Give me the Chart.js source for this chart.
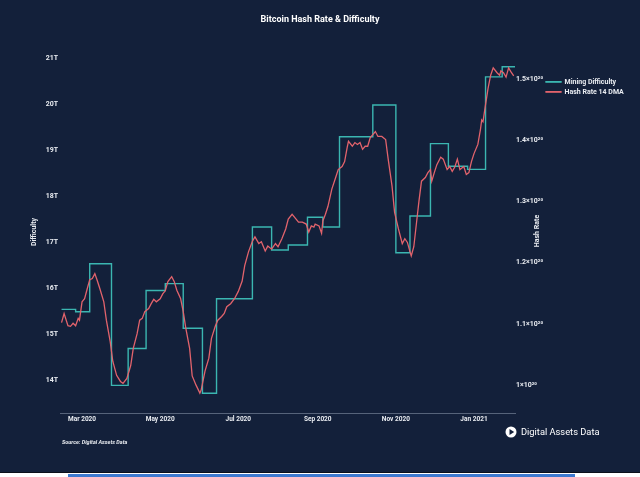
<!DOCTYPE html>
<html>
<head>
<meta charset="utf-8">
<script src="https://cdn.jsdelivr.net/npm/chart.js@4.4.0/dist/chart.umd.min.js"></script>
<style>
  html, body { margin: 0; padding: 0; background: #ffffff; }
  #wrap { position: relative; width: 640px; height: 472px; background: #13203a; border-bottom: 1px solid #0a0f1a; }
  #bar { position: absolute; left: 68px; top: 474px; width: 507px; height: 3px; background: #3d7ad0; }
</style>
</head>
<body>
<div id="wrap"><canvas id="chart" width="640" height="472"></canvas></div>
<div id="bar"></div>
<script>
// x values are days counted from 1 Jan 2020
const monthTicks = [60, 121, 182, 244, 305, 366];
const monthLabels = ["Mar 2020", "May 2020", "Jul 2020", "Sep 2020", "Nov 2020", "Jan 2021"];

// difficulty: day each level starts, value in T (last point closes the final step)
const diffDays = [44, 55, 66, 83, 96, 110, 125, 139, 154, 165, 193, 208, 221, 236, 248, 261, 287, 305, 316, 332, 346, 361, 375, 388, 398];
const diffT = [15.54, 15.49, 16.53, 13.89, 14.69, 15.95, 16.10, 15.13, 13.72, 15.77, 17.33, 16.83, 16.94, 17.54, 17.33, 19.29, 19.98, 16.77, 17.57, 19.14, 18.65, 18.58, 20.59, 20.81, 20.81];

// hash rate, 14 day moving average, EH/s
const hashDays = [44, 46, 49, 51, 53, 55, 57, 58, 60, 62, 64, 66, 68, 70, 72, 74, 77, 79, 82, 84,
  87, 90, 92, 95, 98, 100, 103, 105, 107, 109, 112, 114, 116, 118, 121, 123, 125, 127, 130, 132,
  134, 137, 139, 141, 144, 146, 149, 152, 153, 156, 159, 161, 164, 166, 169, 171, 173, 176, 179, 182,
  185, 187, 190, 193, 195, 198, 200, 203, 205, 208, 211, 213, 216, 219, 221, 224, 226, 229, 232, 235,
  237, 239, 241, 242, 245, 247, 248, 250, 252, 255, 258, 260, 263, 265, 267, 268, 271, 273, 275, 277,
  279, 281, 283, 285, 287, 289, 291, 294, 297, 299, 302, 304, 307, 310, 312, 314, 316, 317, 319, 321,
  323, 325, 328, 330, 332, 333, 335, 337, 340, 342, 345, 347, 349, 351, 353, 355, 358, 360, 362, 364,
  366, 369, 371, 372, 373, 375, 377, 379, 381, 384, 386, 387, 389, 391, 393, 395, 397];
const hashEH = [110.2, 111.7, 109.7, 109.6, 110.1, 109.7, 110.9, 110.6, 113.6, 114.1, 115.7, 117.2, 117.4, 118.2, 117.0, 115.7, 113.6, 110.6, 107.1, 103.9,
  101.6, 100.6, 100.3, 101.1, 103.2, 106.0, 108.4, 110.6, 110.9, 112.0, 112.5, 113.3, 114.0, 113.6, 114.1, 114.9, 115.4, 116.9, 117.7, 116.9,
  115.5, 114.1, 112.0, 109.3, 106.0, 101.5, 100.0, 98.7, 99.2, 102.3, 104.4, 107.6, 109.6, 110.6, 111.2, 111.7, 112.8, 113.3, 114.1, 115.3,
  117.0, 119.5, 121.8, 123.5, 124.2, 123.1, 123.4, 121.9, 122.7, 122.2, 123.1, 122.6, 123.9, 125.5, 127.1, 127.9, 127.4, 126.6, 126.6, 126.3,
  125.0, 126.0, 125.8, 126.3, 126.0, 124.8, 126.8, 127.9, 129.2, 132.0, 133.9, 135.2, 135.7, 136.5, 138.8, 139.8, 139.0, 139.6, 139.3, 139.6,
  138.5, 139.0, 139.0, 140.4, 140.9, 141.4, 140.6, 140.6, 140.1, 136.9, 132.5, 128.2, 125.5, 123.1, 123.9, 123.3, 121.8, 121.1, 122.6, 126.3,
  130.0, 133.3, 133.9, 134.7, 135.2, 133.3, 134.7, 136.0, 137.2, 136.9, 135.2, 135.7, 134.9, 135.6, 136.9, 135.2, 135.7, 134.4, 134.7, 136.5,
  137.8, 139.3, 141.7, 143.3, 143.0, 145.8, 148.5, 150.6, 151.8, 151.0, 150.6, 151.3, 151.0, 150.3, 151.8, 151.1, 150.5];

const diffTicks = [14, 15, 16, 17, 18, 19, 20, 21];
const hashTicks = [100, 110, 120, 130, 140, 150];

const NAVY = "#13203a";
const TEXT = "#e9ecf1";
const TEAL = "#3bb6b1";
const RED = "#e2636c";

Chart.defaults.font.family = "Roboto, 'Noto Sans', sans-serif";

const extras = {
  id: "extras",
  afterDraw(chart) {
    const { ctx, chartArea } = chart;
    const midY = (chartArea.top + chartArea.bottom) / 2;
    ctx.save();
    ctx.fillStyle = TEXT;
    ctx.font = "bold 7px Roboto";
    ctx.textAlign = "center";
    ctx.textBaseline = "middle";
    ctx.save();
    ctx.translate(chartArea.left - 26, midY - 2);
    ctx.rotate(-Math.PI / 2);
    ctx.fillText("Difficulty", 0, 0);
    ctx.restore();
    ctx.save();
    ctx.translate(chartArea.right + 22, midY - 3);
    ctx.rotate(-Math.PI / 2);
    ctx.fillText("Hash Rate", 0, 0);
    ctx.restore();

    ctx.textAlign = "left";
    ctx.font = "italic bold 5.5px Roboto";
    ctx.fillText("Source: Digital Assets Data", 62, 443);

    // logo mark
    ctx.beginPath();
    ctx.arc(511, 432, 5.5, 0, Math.PI * 2);
    ctx.fillStyle = "#ffffff";
    ctx.fill();
    ctx.beginPath();
    ctx.moveTo(509.5, 429);
    ctx.lineTo(514.2, 432);
    ctx.lineTo(509.5, 435);
    ctx.closePath();
    ctx.fillStyle = NAVY;
    ctx.fill();
    ctx.fillStyle = "#ffffff";
    ctx.font = "9.3px Roboto";
    ctx.fillText("Digital Assets Data", 521, 432.5);
    ctx.restore();
  }
};

new Chart(document.getElementById("chart"), {
  type: "line",
  data: {
    datasets: [
      {
        label: "Mining Difficulty",
        data: diffDays.map((d, i) => ({ x: d, y: diffT[i] })),
        yAxisID: "yDiff",
        borderColor: TEAL,
        backgroundColor: TEAL,
        borderWidth: 1.4,
        stepped: true,
        pointRadius: 0,
        order: 1
      },
      {
        label: "Hash Rate 14 DMA",
        data: hashDays.map((d, i) => ({ x: d, y: hashEH[i] })),
        yAxisID: "yHash",
        borderColor: RED,
        backgroundColor: RED,
        borderWidth: 1.3,
        pointRadius: 0,
        tension: 0,
        order: 0
      }
    ]
  },
  options: {
    responsive: false,
    animation: false,
    events: [],
    layout: { padding: { left: 16, right: 16, top: 0, bottom: 47.2 } },
    scales: {
      x: {
        type: "linear",
        min: 42.8,
        max: 398,
        grid: { display: false, drawTicks: false },
        border: { display: true, color: "#56637a", width: 1 },
        afterBuildTicks: (s) => { s.ticks = monthTicks.map((v) => ({ value: v })); },
        ticks: {
          color: TEXT,
          autoSkip: false,
          maxRotation: 0,
          padding: 2,
          font: { size: 6.5, weight: "bold" },
          callback: (v) => monthLabels[monthTicks.indexOf(v)] || ""
        }
      },
      yDiff: {
        position: "left",
        min: 13.29,
        max: 21.065,
        grid: { display: false, drawTicks: false },
        border: { display: false },
        afterBuildTicks: (s) => { s.ticks = diffTicks.map((v) => ({ value: v })); },
        afterFit: (s) => { s.width = 44; },
        ticks: {
          color: TEXT,
          padding: 2,
          font: { size: 7, weight: "bold" },
          callback: (v) => v + "T"
        }
      },
      yHash: {
        position: "right",
        min: 95.45,
        max: 153.9,
        grid: { display: false, drawTicks: false },
        border: { display: false },
        afterBuildTicks: (s) => { s.ticks = hashTicks.map((v) => ({ value: v })); },
        afterFit: (s) => { s.width = 28; },
        ticks: {
          color: TEXT,
          padding: 1,
          font: { size: 7, weight: "bold" },
          callback: (v) => (v === 100 ? "1" : (v / 100).toFixed(1)) + "×10²⁰"
        }
      }
    },
    plugins: {
      title: {
        display: true,
        text: "Bitcoin Hash Rate & Difficulty",
        color: "#ffffff",
        font: { size: 9, weight: "bold" },
        padding: { top: 14.6, bottom: 29.6 }
      },
      legend: {
        position: "right",
        align: "start",
        maxWidth: 81,
        title: { display: true, text: " ", font: { size: 7 }, padding: { top: 67, bottom: 0 } },
        labels: {
          color: TEXT,
          boxWidth: 15,
          boxHeight: 0.5,
          padding: 3,
          font: { size: 7, weight: "bold" },
          sort: (a, b) => a.datasetIndex - b.datasetIndex
        }
      },
      tooltip: { enabled: false }
    }
  },
  plugins: [extras]
});
</script>
</body>
</html>
